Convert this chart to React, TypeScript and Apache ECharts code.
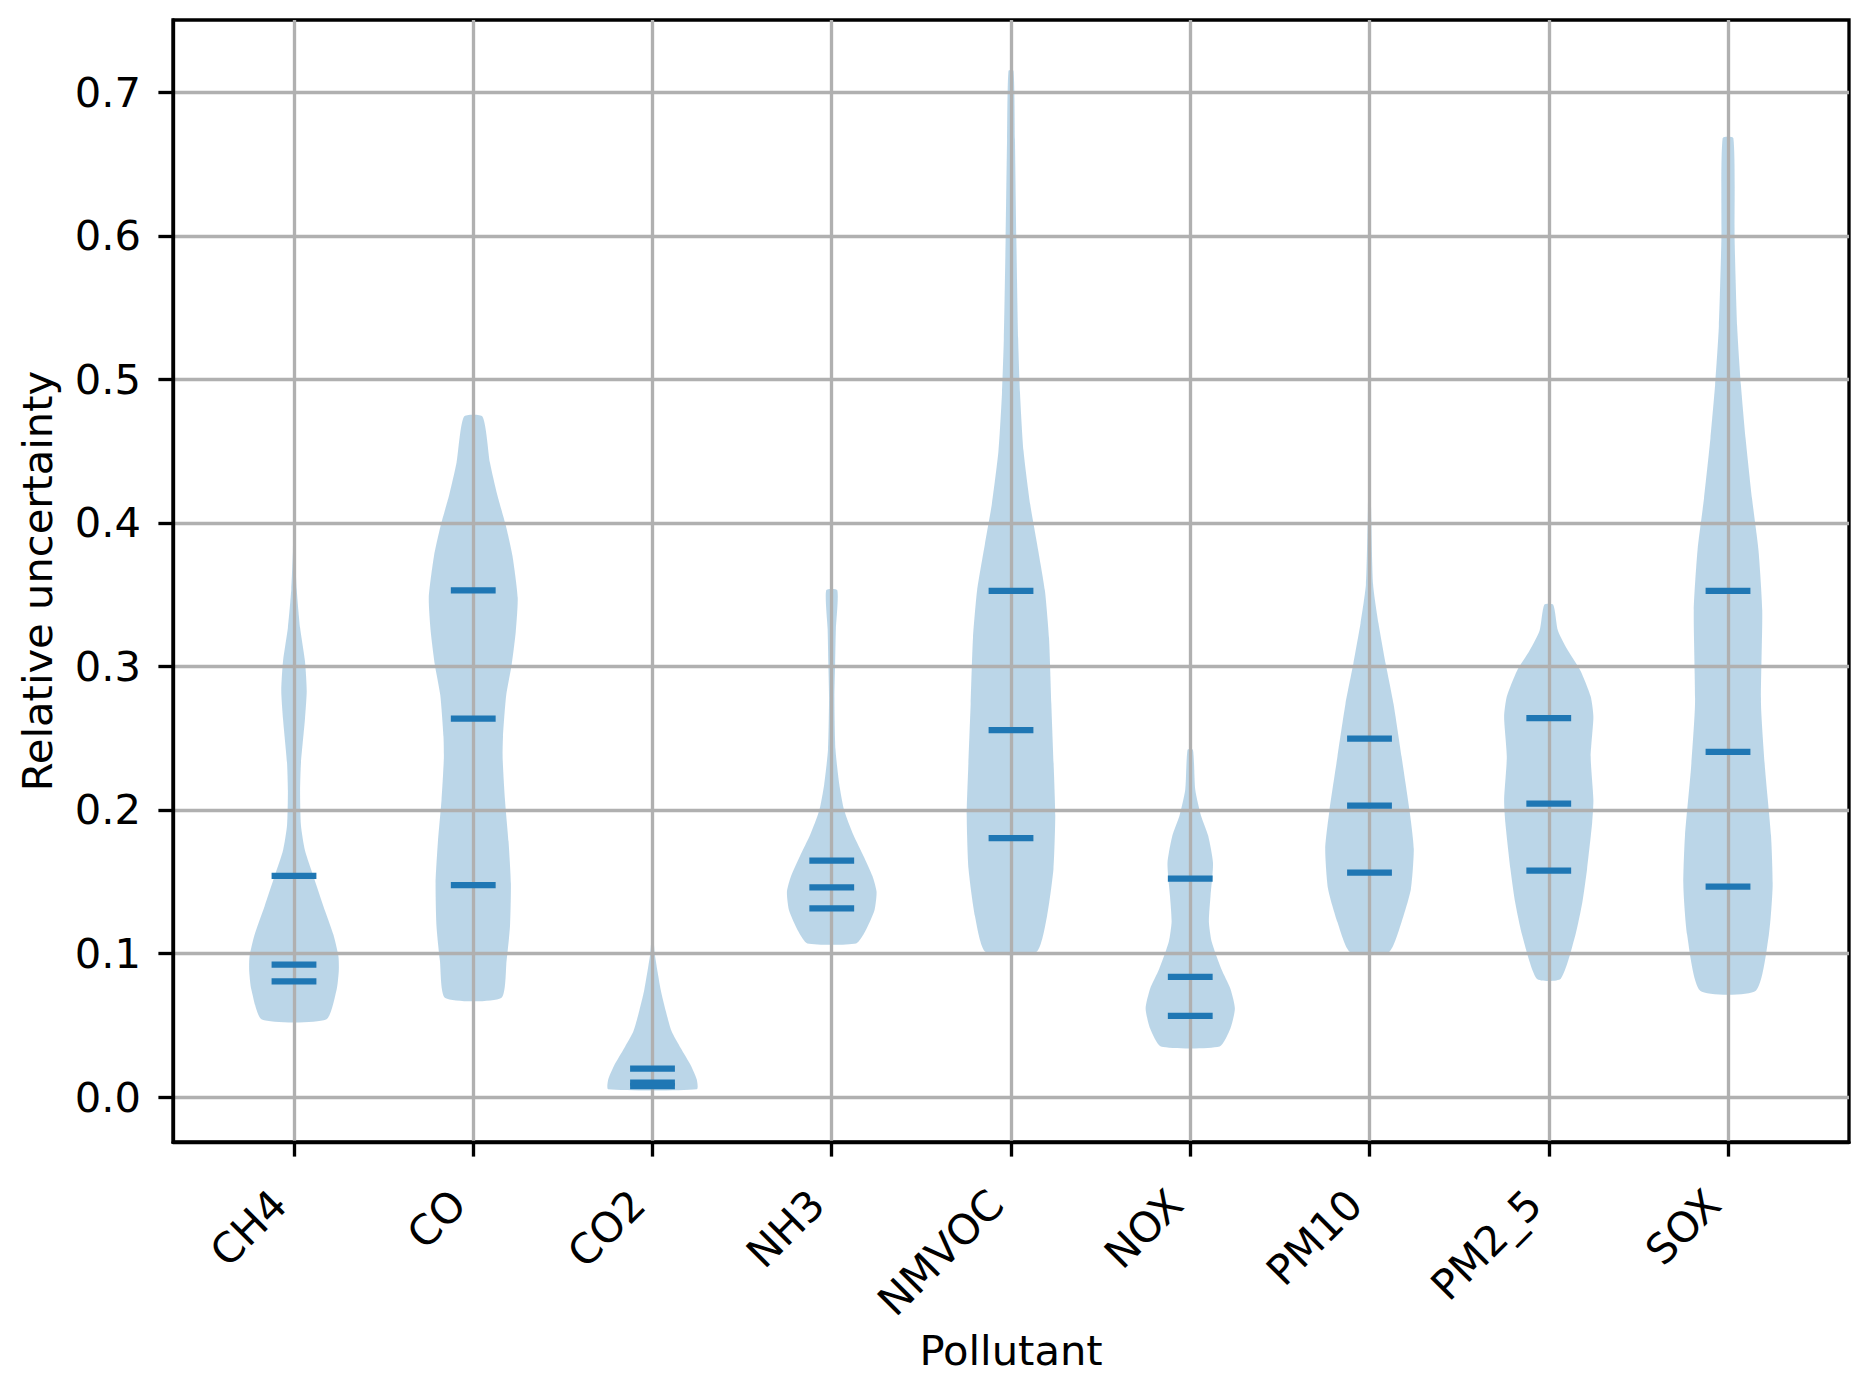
import React, { useEffect, useRef } from "react";
import * as echarts from "echarts";

// Pollutant categories (x positions 1..9)
const categories = ["CH4", "CO", "CO2", "NH3", "NMVOC", "NOX", "PM10", "PM2_5", "SOX"];

// Y tick values
const yTicks = [0, 0.1, 0.2, 0.3, 0.4, 0.5, 0.6, 0.7];

// Violin outlines: y levels and half-widths (in x units)
const ch4Levels = [0.054, 0.075, 0.088, 0.098, 0.113, 0.133, 0.154, 0.172, 0.189, 0.213, 0.233, 0.263, 0.283, 0.304, 0.327, 0.354, 0.38, 0.398];
const ch4Half = [0.179, 0.238, 0.25, 0.248, 0.22, 0.164, 0.108, 0.061, 0.039, 0.034, 0.039, 0.061, 0.071, 0.061, 0.034, 0.015, 0.006, 0.003];

const coLevels = [0.069, 0.095, 0.119, 0.149, 0.178, 0.207, 0.236, 0.251, 0.28, 0.301, 0.324, 0.348, 0.377, 0.398, 0.419, 0.442, 0.474];
const coHalf = [0.156, 0.186, 0.205, 0.21, 0.197, 0.177, 0.164, 0.166, 0.184, 0.214, 0.237, 0.248, 0.219, 0.182, 0.135, 0.093, 0.052];

const co2Levels = [0.0055, 0.0122, 0.022, 0.034, 0.046, 0.06, 0.0746, 0.0986, 0.113];
const co2Half = [0.247, 0.247, 0.214, 0.158, 0.106, 0.074, 0.046, 0.014, 0.003];

const nh3Levels = [0.107, 0.1153, 0.13, 0.143, 0.154, 0.168, 0.1825, 0.2, 0.218, 0.242, 0.278, 0.302, 0.326, 0.353];
const nh3Half = [0.136, 0.186, 0.238, 0.25, 0.227, 0.177, 0.121, 0.069, 0.042, 0.021, 0.015, 0.019, 0.023, 0.031];

const nmvocLevels = [0.101, 0.126, 0.159, 0.196, 0.228, 0.274, 0.32, 0.353, 0.385, 0.413, 0.45, 0.491, 0.528, 0.597, 0.667, 0.715];
const nmvocHalf = [0.141, 0.201, 0.237, 0.247, 0.239, 0.225, 0.212, 0.189, 0.146, 0.107, 0.07, 0.05, 0.04, 0.03, 0.022, 0.014];

const noxLevels = [0.0353, 0.0478, 0.0617, 0.0755, 0.089, 0.108, 0.122, 0.14, 0.163, 0.182, 0.196, 0.214, 0.242];
const noxHalf = [0.164, 0.224, 0.249, 0.224, 0.174, 0.12, 0.104, 0.113, 0.127, 0.1, 0.06, 0.028, 0.015];

const pm10Levels = [0.101, 0.122, 0.145, 0.173, 0.2, 0.237, 0.274, 0.302, 0.33, 0.357, 0.403, 0.436];
const pm10Half = [0.108, 0.179, 0.231, 0.247, 0.223, 0.179, 0.134, 0.09, 0.05, 0.02, 0.01, 0.004];

const pm25Levels = [0.0825, 0.113, 0.136, 0.159, 0.191, 0.207, 0.237, 0.265, 0.279, 0.297, 0.311, 0.325, 0.343];
const pm25Half = [0.067, 0.149, 0.188, 0.214, 0.242, 0.249, 0.234, 0.249, 0.234, 0.177, 0.107, 0.051, 0.025];

const soxLevels = [0.0741, 0.113, 0.147, 0.182, 0.228, 0.274, 0.339, 0.381, 0.417, 0.459, 0.496, 0.537, 0.597, 0.668];
const soxHalf = [0.155, 0.228, 0.249, 0.24, 0.207, 0.184, 0.191, 0.17, 0.134, 0.098, 0.072, 0.051, 0.037, 0.03];

// Quantile lines (25th, 50th, 75th percentiles)
const q25 = [0.0806, 0.1476, 0.0076, 0.1314, 0.1804, 0.0566, 0.1563, 0.1577, 0.1466];
const q50 = [0.0923, 0.2636, 0.0101, 0.146, 0.2557, 0.0838, 0.203, 0.2044, 0.2404];
const q75 = [0.154, 0.353, 0.0199, 0.1647, 0.3527, 0.1522, 0.2497, 0.264, 0.3527];

const allLevels = [ch4Levels, coLevels, co2Levels, nh3Levels, nmvocLevels, noxLevels, pm10Levels, pm25Levels, soxLevels];
const allHalf = [ch4Half, coHalf, co2Half, nh3Half, nmvocHalf, noxHalf, pm10Half, pm25Half, soxHalf];

const FONT = "DejaVu Sans";
const FS = 41.67;
const LW = 3.33;

export default function App() {
  const ref = useRef<HTMLDivElement>(null);

  useEffect(() => {
    if (!ref.current) return;
    const chart = echarts.init(ref.current, undefined, { renderer: "svg" });
    const positions = categories.map((_, i) => i + 1);

    const quantData: number[][] = [];
    categories.forEach((_, i) => {
      quantData.push([i + 1, q25[i]]);
      quantData.push([i + 1, q50[i]]);
      quantData.push([i + 1, q75[i]]);
    });

    const option: any = {
      animation: false,
      backgroundColor: "#ffffff",
      grid: {
        left: 173,
        top: 20,
        right: 21,
        bottom: 239,
        show: true,
        borderColor: "#000000",
        borderWidth: LW,
        backgroundColor: "transparent",
      },
      xAxis: {
        type: "value",
        min: 0.325,
        max: 9.675,
        z: 2,
        name: "Pollutant",
        nameLocation: "middle",
        nameGap: 182,
        nameTextStyle: { fontFamily: FONT, fontSize: FS, color: "#000" },
        axisLine: { show: true, onZero: false, lineStyle: { color: "#000", width: LW } },
        axisTick: {
          show: true,
          length: 14.6,
          customValues: positions,
          lineStyle: { color: "#000", width: LW },
        },
        axisLabel: {
          show: true,
          customValues: positions,
          rotate: 45,
          margin: 70,
          align: "right",
          verticalAlign: "bottom",
          fontFamily: FONT,
          fontSize: FS,
          color: "#000",
          formatter: (v: number) => categories[Math.round(v) - 1] ?? "",
        },
        splitLine: { show: true, lineStyle: { color: "#b0b0b0", width: LW } },
      },
      yAxis: {
        type: "value",
        min: -0.0313,
        max: 0.7503,
        z: 2,
        name: "Relative uncertainty",
        nameLocation: "middle",
        nameGap: 115,
        nameTextStyle: { fontFamily: FONT, fontSize: FS, color: "#000" },
        axisLine: { show: true, onZero: false, lineStyle: { color: "#000", width: LW } },
        axisTick: {
          show: true,
          length: 14.6,
          customValues: yTicks,
          lineStyle: { color: "#000", width: LW },
        },
        axisLabel: {
          show: true,
          customValues: yTicks,
          margin: 32,
          fontFamily: FONT,
          fontSize: FS,
          color: "#000",
          formatter: (v: number) => v.toFixed(1),
        },
        splitLine: { show: true, lineStyle: { color: "#b0b0b0", width: LW } },
      },
      series: [
        {
          type: "custom",
          name: "violins",
          z: 1,
          data: positions.map((p) => [p]),
          renderItem: (params: any, api: any) => {
            const i = params.dataIndex;
            const pos = i + 1;
            const lv = allLevels[i];
            const hw = allHalf[i];
            const right = lv.map((y, k) => api.coord([pos + hw[k], y]));
            const left = lv.map((y, k) => api.coord([pos - hw[k], y])).reverse();
            return {
              type: "polygon",
              shape: { points: right.concat(left), smooth: 0.2 },
              style: { fill: "rgba(31,119,180,0.3)", stroke: "none" },
            };
          },
        },
        {
          type: "custom",
          name: "quantiles",
          z: 5,
          data: quantData,
          renderItem: (params: any, api: any) => {
            const pos = api.value(0);
            const q = api.value(1);
            const a = api.coord([pos - 0.125, q]);
            const b = api.coord([pos + 0.125, q]);
            return {
              type: "line",
              shape: { x1: a[0], y1: a[1], x2: b[0], y2: b[1] },
              style: { stroke: "#1f77b4", lineWidth: 6.25, lineCap: "butt" },
            };
          },
        },
      ],
    };

    chart.setOption(option);
    return () => chart.dispose();
  }, []);

  return (
    <div
      ref={ref}
      style={{ position: "fixed", left: 0, top: 0, width: 1870, height: 1381, background: "#fff" }}
    />
  );
}
